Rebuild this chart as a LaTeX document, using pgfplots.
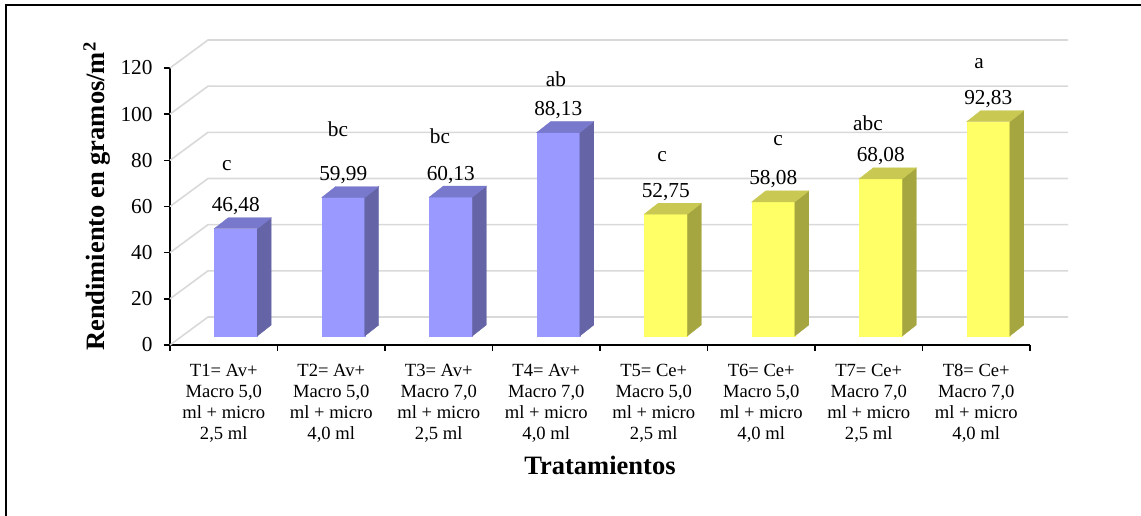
\documentclass[border=0pt]{standalone}
\usepackage{fontspec}
\setmainfont{Liberation Serif}
\usepackage{pgfplots}
\usepackage{pgfplotstable}
\pgfplotsset{compat=1.18}

\definecolor{avfront}{RGB}{153,153,255}
\definecolor{avside}{RGB}{100,100,166}
\definecolor{avtop}{RGB}{120,120,204}
\definecolor{cefront}{RGB}{255,255,102}
\definecolor{ceside}{RGB}{166,166,64}
\definecolor{cetop}{RGB}{200,200,82}
\definecolor{wallgrid}{RGB}{217,217,217}

\pgfdeclareplotmark{nothing}{}

% Rendimiento (g/m2) por tratamiento
\pgfplotstableread{
x v
0 46.48
1 59.99
2 60.13
3 88.13
}\avena
\pgfplotstableread{
x v
4 52.75
5 58.08
6 68.08
7 92.83
}\cebada

\newcommand\catfont{\fontsize{18.6}{20.8}\selectfont}
\newcommand\valfont{\fontsize{21.3}{24}\selectfont}
\newcommand\titlefont{\bfseries\fontsize{26.5}{30}\selectfont}

% each bar is a box: front face, right side and top, drawn from its data point
% (set 12pt right and 9pt up, half way into the floor), with its value above it
\pgfplotsset{
  cube bar/.style n args={3}{
    scatter, only marks, mark=nothing,
    visualization depends on={\thisrow{v} \as \barval},
    scatter/@pre marker code/.code={%
      \pgfkeys{/pgf/fpu=true,/pgf/fpu/output format=fixed}%
      \pgfmathsetmacro\V{\barval}%
      \pgfmathsetmacro\Hb{9-\barval*277/120}%
      \pgfmathsetmacro\Hs{20-\barval*277/120}%
      \pgfkeys{/pgf/fpu=false}%
      \fill[#1] (-9.5pt,\Hb pt) rectangle (33.5pt,9pt);
      \fill[#2] (33.5pt,9pt) -- (47.5pt,20pt) -- (47.5pt,\Hs pt) -- (33.5pt,\Hb pt) -- cycle;
      \fill[#3] (-9.5pt,9pt) -- (33.5pt,9pt) -- (47.5pt,20pt) -- (4.5pt,20pt) -- cycle;
      \node[anchor=base, font=\valfont, text=black, inner sep=0pt] at (12pt,26pt)
        {\pgfmathprintnumber[fixed,fixed zerofill,precision=2,use comma]{\V}};
    },
    scatter/@post marker code/.code={},
  },
}

\begin{document}
\begin{tikzpicture}
\begin{axis}[
  scale only axis, width=860pt, height=277pt,
  xmin=-0.5, xmax=7.5, ymin=0, ymax=120,
  enlargelimits=false, clip=false,
  axis x line*=bottom, axis y line*=left,
  axis line style={black, line width=1.6pt},
  tick style={black, line width=1.4pt},
  tick align=outside, major tick length=6pt,
  /pgf/number format/assume math mode=true,
  ytick={0,20,...,120},
  yticklabel={\pgfmathprintnumber{\tick}},
  yticklabel style={font=\valfont, xshift=-8pt},
  xtick={-0.5,0.5,1.5,2.5,3.5,4.5,5.5,6.5,7.5},
  xticklabels={},
  extra x ticks={0,1,2,3,4,5,6,7},
  extra x tick labels={
    {T1= Av+\\Macro 5,0\\ml + micro\\2,5 ml},
    {T2= Av+\\Macro 5,0\\ml + micro\\4,0 ml},
    {T3= Av+\\Macro 7,0\\ml + micro\\2,5 ml},
    {T4= Av+\\Macro 7,0\\ml + micro\\4,0 ml},
    {T5= Ce+\\Macro 5,0\\ml + micro\\2,5 ml},
    {T6= Ce+\\Macro 5,0\\ml + micro\\4,0 ml},
    {T7= Ce+\\Macro 7,0\\ml + micro\\2,5 ml},
    {T8= Ce+\\Macro 7,0\\ml + micro\\4,0 ml}},
  extra x tick style={major tick length=0pt},
  xticklabel style={align=center, font=\catfont, anchor=north, yshift=-16pt},
  xlabel={Tratamientos},
  ylabel={Rendimiento en gramos/m\textsuperscript{2}},
  every axis x label/.style={at={(rel axis cs:0.5,0)}, anchor=base, yshift=-130pt, font=\titlefont},
  every axis y label/.style={at={(rel axis cs:-0.0849,0.536)}, anchor=center, rotate=90, font=\titlefont},
]
% walls of the box behind the bars
\pgfplotsinvokeforeach{0,20,40,60,80,100,120}{
  \draw[wallgrid, line width=1.6pt] (axis cs:-0.5,#1) -- ++(38pt,28pt) -- ++(860pt,0pt);
}

\addplot[cube bar={avfront}{avside}{avtop}] table[x=x, y=v] {\avena};
\addplot[cube bar={cefront}{ceside}{cetop}] table[x=x, y=v] {\cebada};

% significance letters
\node[anchor=base, font=\valfont] at (axis cs:0.030,75.8) {c};
\node[anchor=base, font=\valfont] at (axis cs:1.063,90.5) {bc};
\node[anchor=base, font=\valfont] at (axis cs:2.012,87.5) {bc};
\node[anchor=base, font=\valfont] at (axis cs:3.091,111.8) {ab};
\node[anchor=base, font=\valfont] at (axis cs:4.077,79.3) {c};
\node[anchor=base, font=\valfont] at (axis cs:5.156,86.6) {c};
\node[anchor=base, font=\valfont] at (axis cs:5.993,93.1) {abc};
\node[anchor=base, font=\valfont] at (axis cs:7.026,119.6) {a};
\end{axis}
% outer frame
\draw[line width=1.6pt] (-164pt,-200pt) -- (-164pt,340pt) -- (1000pt,340pt);
\pgfresetboundingbox
\path[use as bounding box] (-170pt,-171pt) rectangle (971pt,345pt);
\end{tikzpicture}
\end{document}
